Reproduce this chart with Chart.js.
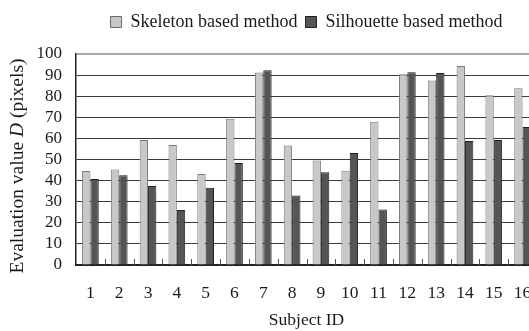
<!DOCTYPE html>
<html>
<head>
<meta charset="utf-8">
<script src="https://cdn.jsdelivr.net/npm/chart.js@4/dist/chart.umd.min.js"></script>
<style>
  html, body { margin: 0; padding: 0; background: #fff; overflow: hidden; }
  #wrap { width: 600px; height: 331px; }
</style>
</head>
<body>
<div id="wrap"><canvas id="evalChart"></canvas></div>
<script>
// --------------------- DATA ------------------------
const subjects = ['1', '2', '3', '4', '5', '6', '7', '8', '9', '10', '11', '12', '13', '14', '15', '16'];
const skeletonVals = [44.5, 45.3, 59.3, 56.9, 43.1, 69.3, 91.2, 56.6, 49.5, 44.7, 67.9, 90.4, 87.4, 94.3, 80.5, 83.8];
const silhouetteVals = [40.7, 42.5, 37.4, 26.1, 36.6, 48.4, 92.3, 32.9, 44.0, 53.1, 26.3, 91.3, 91.0, 58.8, 59.3, 65.4];
const yTicks = [0, 10, 20, 30, 40, 50, 60, 70, 80, 90, 100];

const FONT = '"Liberation Serif", "Times New Roman", serif';
const TXT = '#1a1a1a';

// --------------------- small inward ticks on the x axis ------------------------
const innerTicks = {
    id: 'innerTicks',
    afterDatasetsDraw(chart) {
        const x = chart.scales.x;
        const y0 = chart.scales.y.getPixelForValue(0);
        const step = x.getPixelForValue(1) - x.getPixelForValue(0);
        const ctx = chart.ctx;
        ctx.save();
        ctx.strokeStyle = '#555';
        ctx.lineWidth = 1;
        for (let i = 0; i < subjects.length - 1; i++) {
            let px = Math.round(x.getPixelForValue(i) + step / 2) + 0.5;
            ctx.beginPath();
            ctx.moveTo(px, y0);
            ctx.lineTo(px, y0 - 6);
            ctx.stroke();
        }
        ctx.restore();
    }
};

// --------------------- extra room under the legend ------------------------
const legendGap = {
    id: 'legendGap',
    beforeUpdate(chart) {
        const lg = chart.legend;
        if (lg && !lg._gapPatched) {
            const fit = lg.fit.bind(lg);
            lg.fit = function () { fit(); this.height += 13; };
            lg._gapPatched = true;
        }
    }
};

// --------------------- y title with italic D ------------------------
const yTitle = {
    id: 'yTitle',
    afterDraw(chart) {
        const ctx = chart.ctx;
        const size = 19.5;
        const parts = [
            ['Evaluation value ', size + 'px ' + FONT],
            ['D', 'italic ' + size + 'px ' + FONT],
            [' (pixels)', size + 'px ' + FONT]
        ];
        let total = 0;
        parts.forEach(p => { ctx.font = p[1]; total += ctx.measureText(p[0]).width; });
        ctx.save();
        ctx.translate(18, 166);
        ctx.rotate(-Math.PI / 2);
        ctx.fillStyle = TXT;
        ctx.textBaseline = 'middle';
        ctx.textAlign = 'left';
        let cx = -total / 2;
        parts.forEach(p => {
            ctx.font = p[1];
            ctx.fillText(p[0], cx, 0);
            cx += ctx.measureText(p[0]).width;
        });
        ctx.restore();
    }
};

// --------------------- CHART ------------------------
const ctx = document.getElementById('evalChart').getContext('2d');
let evalChart = new Chart(ctx, {
    type: 'bar',
    data: {
        labels: subjects,
        datasets: [{
            label: 'Skeleton based method',
            data: skeletonVals,
            backgroundColor: '#c8c8c8',
            borderColor: '#7a7a7a',
            borderWidth: 1,
            borderSkipped: 'bottom'
        }, {
            label: 'Silhouette based method',
            data: silhouetteVals,
            backgroundColor: '#555555',
            borderColor: '#1e1e1e',
            borderWidth: 1,
            borderSkipped: 'bottom'
        }]
    },
    options: {
        responsive: true,
        maintainAspectRatio: false,
        animation: false,
        layout: { padding: { top: 5, right: 63, bottom: 0, left: 0 } },
        datasets: { bar: { barPercentage: 1.0, categoryPercentage: 0.58 } },
        plugins: {
            legend: {
                position: 'top',
                fullSize: false,
                labels: {
                    font: { family: FONT, size: 18 },
                    color: TXT,
                    boxWidth: 11,
                    boxHeight: 11,
                    padding: 8,
                    generateLabels(chart) {
                        return chart.data.datasets.map((ds, i) => ({
                            text: ds.label,
                            fillStyle: ds.backgroundColor,
                            strokeStyle: i === 0 ? '#6a6a6a' : '#1e1e1e',
                            lineWidth: 1,
                            fontColor: TXT,
                            datasetIndex: i
                        }));
                    }
                }
            },
            tooltip: { enabled: false }
        },
        scales: {
            x: {
                grid: { display: false },
                border: { display: true, color: '#222', width: 2 },
                ticks: { font: { family: FONT, size: 17.5 }, color: TXT, padding: 10, maxRotation: 0 },
                title: {
                    display: true,
                    text: 'Subject ID',
                    font: { family: FONT, size: 17.5 },
                    color: TXT,
                    padding: { top: 2, bottom: 0 }
                },
                afterFit(s) { s.height = 66; }
            },
            y: {
                min: 0,
                max: 100,
                afterBuildTicks(s) { s.ticks = yTicks.map(v => ({ value: v })); },
                grid: {
                    drawTicks: false,
                    color: c => c.tick && c.tick.value === 100 ? '#a8a8a8' : '#3a3a3a',
                    lineWidth: c => c.tick && c.tick.value === 100 ? 2 : 1
                },
                border: { display: true, color: '#222', width: 1.5 },
                ticks: { font: { family: FONT, size: 17 }, color: TXT, padding: 14, autoSkip: false },
                afterFit(s) { s.width = 76; }
            }
        }
    },
    plugins: [innerTicks, legendGap, yTitle]
});
</script>
</body>
</html>
